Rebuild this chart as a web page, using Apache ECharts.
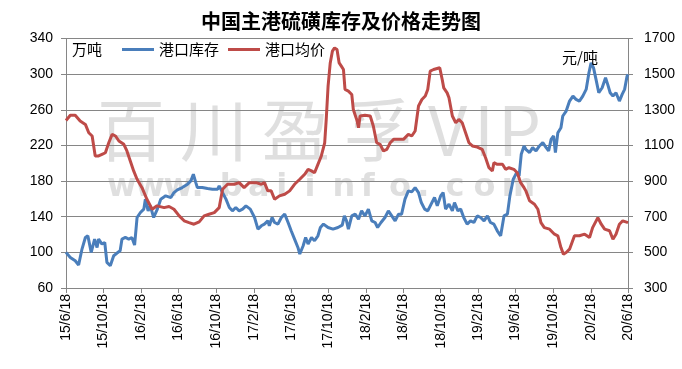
<!DOCTYPE html>
<html>
<head>
<meta charset="utf-8">
<script src="https://cdn.jsdelivr.net/npm/echarts@6/dist/echarts.min.js"></script>
<style>
html,body{margin:0;padding:0;background:#fff;}
#chart{width:682px;height:369px;}
</style>
</head>
<body>
<div id="chart"></div>
<script>
// ---------------- data ----------------
const titleText = '中国主港硫磺库存及价格走势图';
const seriesNames = ['港口库存', '港口均价'];
const leftUnit = '万吨';
const rightUnit = '元/吨';

const tickDates = ['2015-06-18','2015-10-18','2016-02-18','2016-06-18','2016-10-18','2017-02-18','2017-06-18','2017-10-18',
  '2018-02-18','2018-06-18','2018-10-18','2019-02-18','2019-06-18','2019-10-18','2020-02-18','2020-06-18'];

const stockDates = ['2015-06-18','2015-07-02','2015-07-18','2015-07-29','2015-08-09','2015-08-20','2015-08-28','2015-09-08','2015-09-19','2015-09-27',
  '2015-10-02','2015-10-13','2015-10-22','2015-10-29','2015-11-09','2015-11-20','2015-12-01','2015-12-11','2015-12-17','2015-12-28',
  '2016-01-08','2016-01-18','2016-01-27','2016-02-04','2016-02-15','2016-02-26','2016-03-02','2016-03-11','2016-03-18','2016-03-29',
  '2016-04-10','2016-04-21','2016-05-07','2016-05-24','2016-06-03','2016-06-14','2016-06-30','2016-07-17','2016-07-28','2016-08-05',
  '2016-08-13','2016-08-18','2016-09-03','2016-09-20','2016-10-06','2016-10-23','2016-10-28','2016-11-08','2016-11-19','2016-11-30',
  '2016-12-10','2016-12-21','2017-01-01','2017-01-12','2017-01-23','2017-02-06','2017-02-20','2017-03-03','2017-03-14','2017-03-24',
  '2017-04-04','2017-04-09','2017-04-18','2017-04-26','2017-05-07','2017-05-18','2017-05-29','2017-06-09','2017-06-19','2017-06-30',
  '2017-07-11','2017-07-17','2017-07-28','2017-08-05','2017-08-13','2017-08-24','2017-09-03','2017-09-14','2017-09-22','2017-10-02',
  '2017-10-17','2017-11-02','2017-11-18','2017-12-02','2017-12-09','2017-12-16','2017-12-22','2018-01-02','2018-01-13','2018-01-24',
  '2018-02-03','2018-02-14','2018-02-25','2018-03-08','2018-03-19','2018-03-27','2018-04-07','2018-04-20','2018-05-01','2018-05-12',
  '2018-05-23','2018-06-03','2018-06-13','2018-06-24','2018-07-05','2018-07-16','2018-07-27','2018-08-07','2018-08-16','2018-08-27',
  '2018-09-06','2018-09-17','2018-09-28','2018-10-07','2018-10-18','2018-10-26','2018-11-03','2018-11-14','2018-11-25','2018-12-02',
  '2018-12-13','2018-12-22','2019-01-01','2019-01-12','2019-01-23','2019-02-03','2019-02-14','2019-02-25','2019-03-08','2019-03-19',
  '2019-03-29','2019-04-09','2019-04-20','2019-05-01','2019-05-06','2019-05-12','2019-05-23','2019-05-31','2019-06-11','2019-06-22',
  '2019-06-30','2019-07-07','2019-07-16','2019-07-22','2019-08-03','2019-08-13','2019-08-24','2019-09-04','2019-09-15','2019-09-26',
  '2019-10-04','2019-10-12','2019-10-20','2019-10-26','2019-11-03','2019-11-13','2019-11-19','2019-11-30','2019-12-11','2019-12-22',
  '2020-01-01','2020-01-12','2020-01-23','2020-02-03','2020-02-12','2020-02-19','2020-02-27','2020-03-06','2020-03-15','2020-03-26',
  '2020-04-06','2020-04-13','2020-04-21','2020-04-30','2020-05-10','2020-05-21','2020-05-30','2020-06-07','2020-06-15','2020-06-18'];
const stockValues = [100,94.3,90.6,85.8,103.7,116.7,118.6,100,114.9,105.5,
  114.9,109.3,111.1,88.7,85,96.2,99.2,101.8,114.9,116.7,
  114.9,116.7,108.2,139.1,144.7,148.5,159.7,146.6,152.2,139.1,
  148.5,159.7,163.4,161.5,167.1,170.1,172.7,176.5,180.2,187.7,
  178.3,172.7,172.7,171.6,170.9,170.9,174.6,167.1,159.7,150.3,
  146.6,150.3,146.6,148.5,152.2,148.5,139.1,126.1,129.8,131.7,
  135.4,129.8,139.1,133.5,131.7,139.1,142.9,133.5,124.2,114.9,
  105.5,98.1,107.4,116.7,109.3,116.7,113,118.6,127.9,131.7,
  127.9,126.1,127.9,130.5,141,135.4,126.1,141,142.9,137.3,
  146.6,141,148.5,135.4,133.5,127.9,133.5,139.1,146.6,141,
  135.4,142.9,142.9,159.7,169,167.9,172.7,167.1,155.9,148.5,
  146.6,154.1,161.5,152.2,163.4,167.1,148.5,154.1,146.6,155.9,
  146.6,148.5,139.1,131.7,135.4,133.5,141,139.1,135.4,141,
  133.5,131.7,124.2,118.6,116.7,141,142.9,163.4,182.1,189.5,
  185.8,210.1,219.4,215.7,212,217.5,213.8,219.4,223.1,217.5,
  213.8,226.9,230.6,212,234.3,239.9,253,258.6,269.8,275.4,
  271.7,269.8,275.4,282.9,301.5,312.7,307.1,294.1,279.1,284.7,
  295.9,288.5,279.1,275.4,279.1,269.8,277.3,282.9,297.8,299.7];

const priceDates = ['2015-06-18','2015-07-02','2015-07-18','2015-08-03','2015-08-20','2015-08-31','2015-09-11','2015-09-21','2015-10-02','2015-10-13',
  '2015-10-24','2015-11-04','2015-11-15','2015-11-26','2015-12-07','2015-12-23','2016-01-02','2016-01-13','2016-01-24','2016-02-04',
  '2016-02-20','2016-03-07','2016-03-24','2016-04-09','2016-05-02','2016-05-18','2016-06-03','2016-06-20','2016-07-06','2016-07-22',
  '2016-08-07','2016-08-24','2016-09-09','2016-09-25','2016-10-12','2016-10-28','2016-11-08','2016-11-24','2016-12-16','2017-01-01',
  '2017-01-17','2017-02-03','2017-02-09','2017-02-25','2017-03-14','2017-03-24','2017-04-04','2017-04-15','2017-04-26','2017-05-12',
  '2017-05-29','2017-06-14','2017-06-30','2017-07-17','2017-08-02','2017-08-13','2017-08-24','2017-09-03','2017-09-14','2017-09-25',
  '2017-10-06','2017-10-11','2017-10-17','2017-10-24','2017-10-31','2017-11-07','2017-11-15','2017-11-22','2017-11-29','2017-12-06',
  '2017-12-11','2017-12-22','2018-01-02','2018-01-07','2018-01-18','2018-01-24','2018-01-29','2018-02-14','2018-03-03','2018-03-13',
  '2018-03-24','2018-04-04','2018-04-15','2018-04-26','2018-05-07','2018-05-18','2018-06-03','2018-06-19','2018-07-05','2018-07-16',
  '2018-07-27','2018-08-07','2018-08-18','2018-08-29','2018-09-06','2018-09-14','2018-09-25','2018-10-01','2018-10-15','2018-10-23',
  '2018-10-28','2018-11-08','2018-11-14','2018-11-25','2018-12-06','2018-12-16','2018-12-27','2019-01-07','2019-01-18','2019-01-29',
  '2019-02-14','2019-03-02','2019-03-13','2019-03-24','2019-04-04','2019-04-09','2019-04-20','2019-05-07','2019-05-17','2019-05-28',
  '2019-06-13','2019-06-24','2019-07-05','2019-07-16','2019-07-22','2019-08-03','2019-08-19','2019-08-30','2019-09-09','2019-09-20',
  '2019-10-07','2019-10-23','2019-11-03','2019-11-13','2019-11-21','2019-11-30','2019-12-11','2019-12-27','2020-01-12','2020-01-29',
  '2020-02-14','2020-02-24','2020-03-12','2020-03-23','2020-04-03','2020-04-19','2020-04-30','2020-05-10','2020-05-21','2020-06-01',
  '2020-06-18'];
const priceValues = [1240,1269,1269,1237,1218,1171,1153,1041,1041,1050,
  1059,1115,1162,1153,1125,1106,1069,1013,957,910,
  863,798,742,761,751,757,742,705,677,667,
  658,671,705,714,723,751,854,882,882,891,
  863,891,901,891,882,891,845,845,798,817,
  826,845,882,910,938,966,957,947,994,1041,
  1115,1246,1433,1563,1629,1647,1638,1563,1545,1526,
  1414,1405,1386,1302,1246,1199,1265,1269,1265,1209,
  1115,1106,1069,1078,1115,1134,1134,1134,1162,1153,
  1181,1321,1358,1377,1414,1517,1526,1526,1536,1470,
  1423,1395,1367,1265,1227,1246,1227,1171,1115,1097,
  1091,1078,1031,975,957,1003,994,994,966,975,
  966,947,891,863,845,789,770,742,667,639,
  630,602,593,527,490,499,518,593,593,602,
  583,639,695,658,630,621,574,602,658,677,
  667];

// ---------------- helpers ----------------
function ts(s){ const p = s.split('-').map(Number); return Date.UTC(p[0], p[1]-1, p[2]); }
function pairs(d, v){ return d.map((x,i)=>[ts(x), v[i]]); }
const tickTs = tickDates.map(ts);

const chart = echarts.init(document.getElementById('chart'), null, {renderer:'canvas'});
const gray = '#868686';
const labelFont = 'Liberation Sans';

// watermark characters
const wmBig = [['百',97],['川',180],['盈',262],['孚',344],['V',428],['I',474],['P',498]];
const wmSmall = 'www.baiinfo.com';
const graphics = [];
wmBig.forEach(([c,x])=>{
  graphics.push({type:'text', left:x, top:96, z:0, silent:true,
    style:{text:c, font:'68px "Noto Sans CJK SC"', fill:'rgba(150,150,150,0.3)'}});
});
wmSmall.split('').forEach((c,i)=>{
  graphics.push({type:'text', left:107 + i*28.2, top:172, z:0, silent:true,
    style:{text:c, font:'bold 32px "DejaVu Sans"', fill:'rgba(150,150,150,0.3)'}});
});
graphics.push({type:'text', left:72, top:42, z:5, style:{text:leftUnit, font:'15px "Noto Sans CJK SC"', fill:'#000'}});
graphics.push({type:'text', left:562, top:50, z:5, style:{text:rightUnit, font:'15px "Noto Sans CJK SC"', fill:'#000'}});

chart.setOption({
  animation:false,
  backgroundColor:'#fff',
  title:{text:titleText, left:'center', top:11, padding:0,
    textStyle:{fontSize:20, fontWeight:'bold', color:'#000', fontFamily:'Noto Sans CJK SC'}},
  legend:{left:122, top:42, itemWidth:32, itemHeight:3, itemGap:9, icon:'rect', padding:0,
    textStyle:{fontSize:15, color:'#000', fontFamily:'Noto Sans CJK SC'},
    data:seriesNames},
  grid:{left:66, right:54, top:38.5, bottom:81, containLabel:false},
  graphic:graphics,
  xAxis:{type:'value', min:ts('2015-06-18'), max:ts('2020-06-18'),
    axisLine:{show:true, lineStyle:{color:gray, width:1}},
    axisTick:{show:true, customValues:tickTs, length:5, lineStyle:{color:gray}},
    axisLabel:{customValues:tickTs, rotate:90, margin:6, fontSize:14, color:'#000', fontFamily:labelFont,
      formatter:function(v){ const d=new Date(v); return (d.getUTCFullYear()%100)+'/'+(d.getUTCMonth()+1)+'/'+d.getUTCDate(); }},
    splitLine:{show:false}},
  yAxis:[
    {type:'value', min:60, max:340, interval:40, position:'left',
      axisLine:{show:true, lineStyle:{color:gray}},
      axisTick:{show:true, length:5, lineStyle:{color:gray}},
      axisLabel:{fontSize:14, color:'#000', margin:13, fontFamily:labelFont, formatter:function(v){return String(v);}},
      splitLine:{show:true, lineStyle:{color:gray, width:1}}},
    {type:'value', min:300, max:1700, interval:200, position:'right',
      axisLine:{show:true, lineStyle:{color:gray}},
      axisTick:{show:true, length:5, lineStyle:{color:gray}},
      axisLabel:{fontSize:14, color:'#000', margin:16, fontFamily:labelFont, formatter:function(v){return String(v);}},
      splitLine:{show:false}}
  ],
  series:[
    {name:seriesNames[0], type:'line', yAxisIndex:0, data:pairs(stockDates, stockValues),
      showSymbol:false, symbol:'none', z:3, lineStyle:{color:'#4a7ebb', width:3}, itemStyle:{color:'#4a7ebb'}},
    {name:seriesNames[1], type:'line', yAxisIndex:1, data:pairs(priceDates, priceValues),
      showSymbol:false, symbol:'none', z:3, lineStyle:{color:'#be4b48', width:3}, itemStyle:{color:'#be4b48'}}
  ]
});
</script>
</body>
</html>
